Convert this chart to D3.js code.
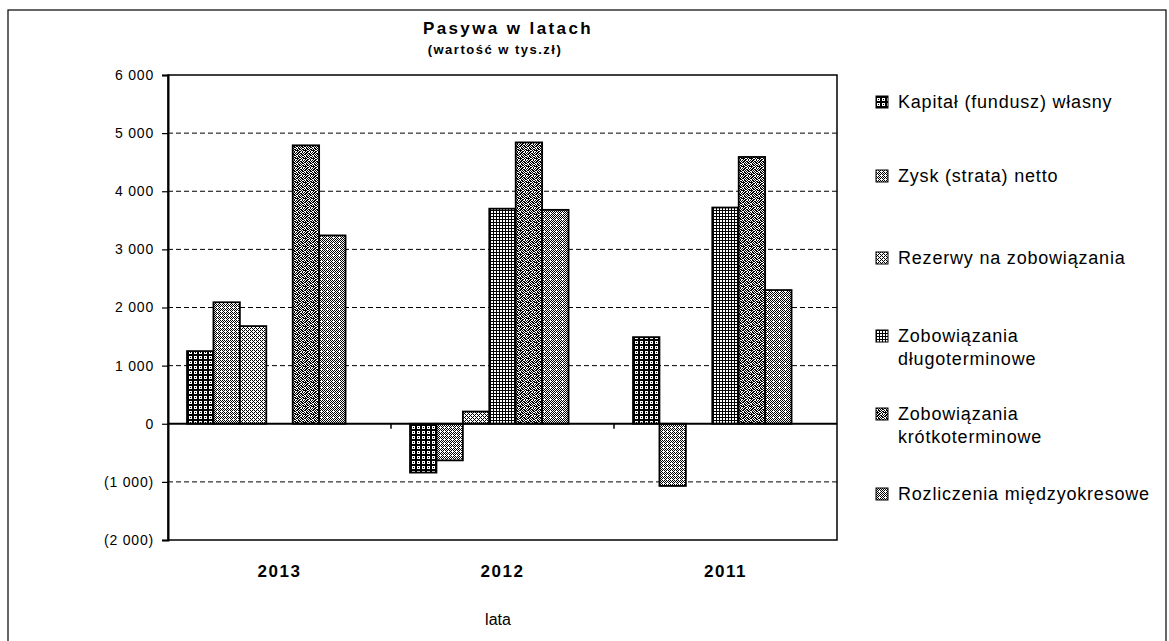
<!DOCTYPE html>
<html>
<head>
<meta charset="utf-8">
<script src="https://cdn.jsdelivr.net/npm/d3@7"></script>
<style>
  body { margin: 0; background: #fff; }
  text { font-family: Arial, "Liberation Sans", sans-serif; fill: #000; }
</style>
</head>
<body>
<div id="chart"></div>
<script>
// values in thousands of zł
const years = ["2013", "2012", "2011"];
const seriesNames = [
  "Kapitał (fundusz) własny",
  "Zysk (strata) netto",
  "Rezerwy na zobowiązania",
  "Zobowiązania długoterminowe",
  "Zobowiązania krótkoterminowe",
  "Rozliczenia międzyokresowe"
];
const kapital = [1250, -840, 1490];
const zysk = [2090, -630, -1070];
const rezerwy = [1680, 210, 0];
const zobDlugo = [0, 3700, 3720];
const zobKrotko = [4790, 4840, 4590];
const rozliczenia = [3240, 3680, 2300];
const yTicks = [-2000, -1000, 0, 1000, 2000, 3000, 4000, 5000, 6000];
const yTickLabels = ["(2 000)", "(1 000)", "0", "1 000", "2 000", "3 000", "4 000", "5 000", "6 000"];
const legendLines = [
  ["Kapitał (fundusz) własny"],
  ["Zysk (strata) netto"],
  ["Rezerwy na zobowiązania"],
  ["Zobowiązania", "długoterminowe"],
  ["Zobowiązania", "krótkoterminowe"],
  ["Rozliczenia międzyokresowe"]
];

const seriesValues = [kapital, zysk, rezerwy, zobDlugo, zobKrotko, rozliczenia];

const svg = d3.select("#chart").append("svg")
    .attr("width", 1169)
    .attr("height", 641);

// hatch patterns (1 = black pixel)
const patterns = [
  ["11111", "10001", "10101", "10001", "11111"],
  ["1010", "0101", "1010", "0001"],
  ["1010", "0100", "1010", "0001"],
  ["111", "100", "100"],
  ["10110010", "01101101", "11010110", "00101011", "10110100", "01011011", "11100101", "01011010"],
  ["101010", "010101", "101010", "010001", "101010", "010101"]
];
const defs = svg.append("defs");
patterns.forEach((rows, i) => {
  const p = defs.append("pattern")
      .attr("id", "pat" + i)
      .attr("patternUnits", "userSpaceOnUse")
      .attr("width", rows[0].length)
      .attr("height", rows.length);
  p.append("rect").attr("width", rows[0].length).attr("height", rows.length).attr("fill", "#fff");
  rows.forEach((row, r) => {
    row.split("").forEach((c, k) => {
      if (c === "1") p.append("rect").attr("x", k).attr("y", r).attr("width", 1).attr("height", 1)
          .attr("fill", "#000").attr("shape-rendering", "crispEdges");
    });
  });
});

// outer frame
svg.append("rect")
    .attr("x", 8).attr("y", 10)
    .attr("width", 1158).attr("height", 660)
    .attr("fill", "none").attr("stroke", "#000").attr("stroke-width", 1.2);

const plot = { left: 168, right: 837, top: 75, bottom: 540 };

const y = d3.scaleLinear().domain([-2000, 6000]).range([plot.bottom, plot.top]);
const x0 = d3.scaleBand().domain(years).range([plot.left, plot.right]).padding(0);
// 7 slots per group, the last one is empty (as in the original sheet)
const x1 = d3.scaleBand().domain(d3.range(7)).range([0, x0.bandwidth()]).paddingInner(0).paddingOuter(0.72);

// gridlines
svg.append("g").selectAll("line")
    .data(yTicks.filter(d => d !== 0 && d !== -2000 && d !== 6000))
    .join("line")
    .attr("x1", plot.left).attr("x2", plot.right)
    .attr("y1", d => y(d)).attr("y2", d => y(d))
    .attr("stroke", "#000").attr("stroke-width", 1)
    .attr("stroke-dasharray", "5,3");

// plot border
svg.append("rect")
    .attr("x", plot.left).attr("y", plot.top)
    .attr("width", plot.right - plot.left).attr("height", plot.bottom - plot.top)
    .attr("fill", "none").attr("stroke", "#000").attr("stroke-width", 1.5);

// y axis
const yAxis = d3.axisLeft(y)
    .tickValues(yTicks)
    .tickFormat((d, i) => yTickLabels[i])
    .tickSize(6)
    .tickPadding(8);
const gy = svg.append("g")
    .attr("transform", `translate(${plot.left},0)`)
    .call(yAxis);
gy.select(".domain").attr("stroke-width", 2);
gy.selectAll(".tick line").attr("stroke-width", 1.2);
gy.selectAll("text")
    .style("font-size", "14px")
    .style("letter-spacing", "0.8px");

// bars
const groups = svg.append("g").selectAll("g")
    .data(years)
    .join("g")
    .attr("transform", d => `translate(${x0(d)},0)`);

groups.selectAll("rect")
    .data((yr, yi) => seriesValues.map((vals, si) => ({ si: si, v: vals[yi] })))
    .join("rect")
    .attr("x", d => x1(d.si))
    .attr("width", x1.bandwidth())
    .attr("y", d => y(Math.max(0, d.v)))
    .attr("height", d => Math.abs(y(d.v) - y(0)))
    .attr("fill", d => `url(#pat${d.si})`)
    .attr("stroke", "#000")
    .attr("stroke-width", 1.8);

// zero axis with category ticks
svg.append("line")
    .attr("x1", plot.left).attr("x2", plot.right)
    .attr("y1", y(0)).attr("y2", y(0))
    .attr("stroke", "#000").attr("stroke-width", 2);
svg.append("g").selectAll("line")
    .data(years.slice(1))
    .join("line")
    .attr("x1", d => x0(d)).attr("x2", d => x0(d))
    .attr("y1", y(0)).attr("y2", y(0) + 5)
    .attr("stroke", "#000").attr("stroke-width", 1.5);

// category labels
svg.append("g").selectAll("text")
    .data(years)
    .join("text")
    .attr("x", d => x0(d) + x0.bandwidth() / 2)
    .attr("y", 577)
    .attr("text-anchor", "middle")
    .style("font-size", "17px")
    .style("font-weight", "bold")
    .style("letter-spacing", "1.5px")
    .text(d => d);

svg.append("text")
    .attr("x", 498).attr("y", 625)
    .attr("text-anchor", "middle")
    .style("font-size", "16px")
    .text("lata");

// titles
svg.append("text")
    .attr("x", 508).attr("y", 34)
    .attr("text-anchor", "middle")
    .style("font-size", "17px")
    .style("font-weight", "bold")
    .style("letter-spacing", "2.4px")
    .text("Pasywa w latach");
svg.append("text")
    .attr("x", 495).attr("y", 54)
    .attr("text-anchor", "middle")
    .style("font-size", "13px")
    .style("font-weight", "bold")
    .style("letter-spacing", "1.5px")
    .text("(wartość w tys.zł)");

// legend
const legendY = [102, 176, 258, 336, 414, 494];
const legend = svg.append("g").selectAll("g")
    .data(seriesNames)
    .join("g")
    .attr("transform", (d, i) => `translate(876,${legendY[i]})`);
legend.append("rect")
    .attr("x", 0).attr("y", -6)
    .attr("width", 12).attr("height", 12)
    .attr("fill", (d, i) => `url(#pat${i})`)
    .attr("stroke", "#000").attr("stroke-width", 1);
legend.append("text")
    .attr("x", 22).attr("y", 6)
    .style("font-size", "18px")
    .style("letter-spacing", "0.8px")
    .selectAll("tspan")
    .data((d, i) => legendLines[i])
    .join("tspan")
    .attr("x", 22)
    .attr("dy", (d, j) => j === 0 ? 0 : 23)
    .text(d => d);
</script>
</body>
</html>
